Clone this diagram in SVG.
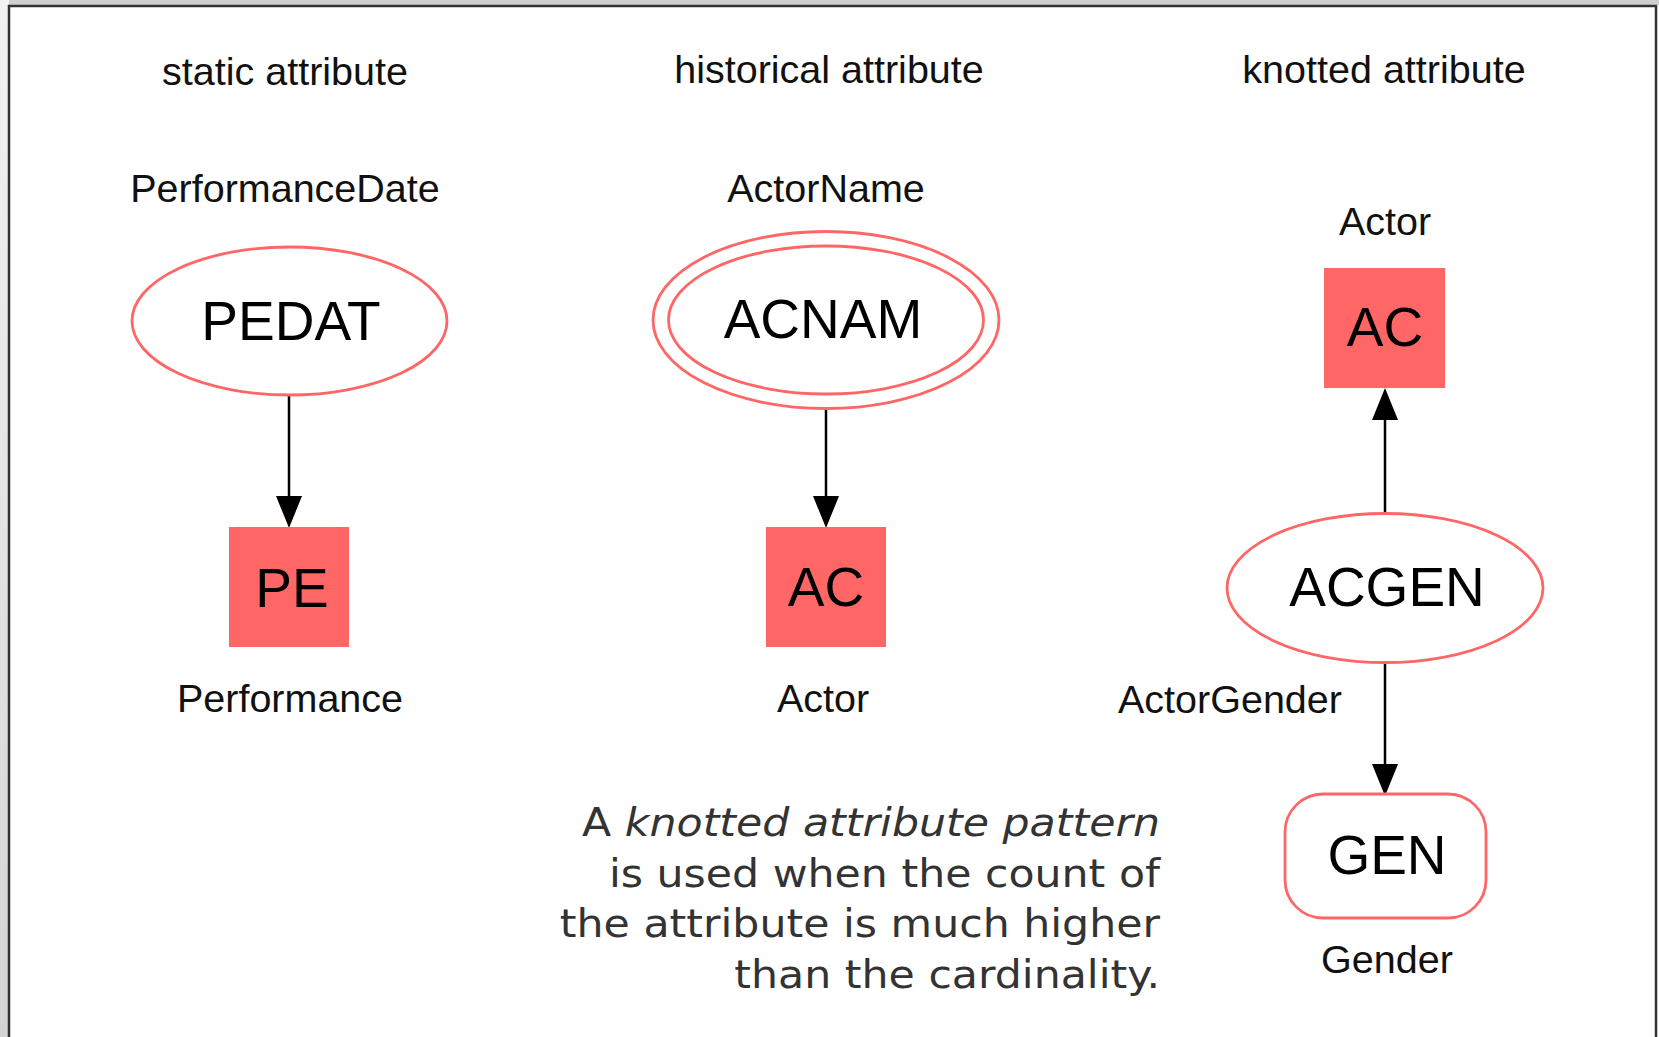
<svg xmlns="http://www.w3.org/2000/svg" width="1659" height="1037" viewBox="0 0 1659 1037">
  <defs>
    <linearGradient id="sideShade" x1="0" y1="0" x2="0" y2="1">
      <stop offset="0" stop-color="#f2f2f2"/>
      <stop offset="1" stop-color="#d4d4d4"/>
    </linearGradient>
    <marker id="arrow" markerUnits="userSpaceOnUse" markerWidth="34" markerHeight="28" refX="22" refY="13" orient="auto">
      <path d="M0,0 L32,13 L0,26 z" fill="#000"/>
    </marker>
    <style>
      .label { font-family: "Liberation Sans", Arial, sans-serif; font-size: 39.5px; fill: #111; text-anchor: middle; }
      .nodetext { font-family: "Liberation Sans", Arial, sans-serif; font-size: 55px; fill: #000; text-anchor: middle; }
      .attr { fill: #fff; stroke: #ff6666; stroke-width: 2.8; }
      .anchor { fill: #ff6666; }
      .edge { stroke: #000; stroke-width: 2.5; fill: none; marker-end: url(#arrow); }
      .note { font-family: "DejaVu Sans", Verdana, sans-serif; font-size: 38.5px; fill: #333; text-anchor: end; }
    </style>
  </defs>

  <!-- page background and frame -->
  <rect x="0" y="0" width="1659" height="1037" fill="#fff"/>
  <rect x="0" y="0" width="1659" height="5" fill="#cfcfcf"/>
  <rect x="0" y="0" width="9" height="1037" fill="url(#sideShade)"/>
  <path d="M9,1040 L9,6 L1656,6 L1656,1040" fill="none" stroke="#333" stroke-width="2.5"/>

  <!-- column headings -->
  <g id="headings">
    <text class="label" x="285" y="85">static attribute</text>
    <text class="label" x="829" y="83">historical attribute</text>
    <text class="label" x="1384" y="83">knotted attribute</text>
  </g>

  <!-- connectors -->
  <g id="connectors">
    <line class="edge" x1="289" y1="395" x2="289" y2="518"/>
    <line class="edge" x1="826" y1="409" x2="826" y2="518"/>
    <line class="edge" x1="1385" y1="513" x2="1385" y2="398"/>
    <line class="edge" x1="1385" y1="662" x2="1385" y2="786"/>
  </g>

  <!-- static attribute -->
  <g id="PEDAT">
    <ellipse class="attr" cx="289.5" cy="321" rx="157.5" ry="74"/>
    <text class="nodetext" x="291" y="340">PEDAT</text>
    <text class="label" x="285" y="202">PerformanceDate</text>
  </g>
  <g id="PE">
    <rect class="anchor" x="229" y="527" width="120" height="120"/>
    <text class="nodetext" x="292" y="607">PE</text>
    <text class="label" x="290" y="712">Performance</text>
  </g>

  <!-- historical attribute -->
  <g id="ACNAM">
    <ellipse class="attr" cx="826" cy="320" rx="173" ry="88.5"/>
    <ellipse class="attr" cx="826" cy="320" rx="157.5" ry="74"/>
    <text class="nodetext" x="823" y="338">ACNAM</text>
    <text class="label" x="826" y="202">ActorName</text>
  </g>
  <g id="AC_historical">
    <rect class="anchor" x="766" y="527" width="120" height="120"/>
    <text class="nodetext" x="826" y="606">AC</text>
    <text class="label" x="823" y="712">Actor</text>
  </g>

  <!-- knotted attribute -->
  <g id="AC_knotted">
    <rect class="anchor" x="1324" y="268" width="121" height="120"/>
    <text class="nodetext" x="1385" y="346">AC</text>
    <text class="label" x="1385" y="235">Actor</text>
  </g>
  <g id="ACGEN">
    <ellipse class="attr" cx="1385" cy="588" rx="158" ry="74.5"/>
    <text class="nodetext" x="1387" y="606">ACGEN</text>
    <text class="label" x="1230" y="713">ActorGender</text>
  </g>
  <g id="GEN">
    <rect class="attr" x="1285" y="794" width="201" height="124" rx="38" ry="38"/>
    <text class="nodetext" x="1387" y="874">GEN</text>
    <text class="label" x="1387" y="973">Gender</text>
  </g>

  <!-- explanatory note -->
  <g id="note" transform="translate(1160 0) scale(1.108 1)">
    <text class="note" x="0" y="836">A <tspan font-style="italic">knotted attribute pattern</tspan></text>
    <text class="note" x="0" y="887">is used when the count of</text>
    <text class="note" x="0" y="937">the attribute is much higher</text>
    <text class="note" x="0" y="988">than the cardinality.</text>
  </g>
</svg>
